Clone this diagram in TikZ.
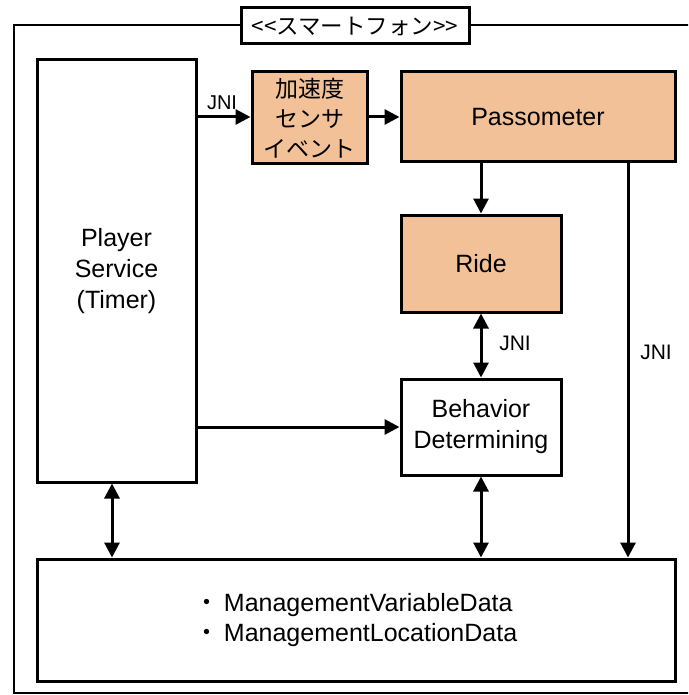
\documentclass[tikz,border=0pt]{standalone}
\usepackage{fontspec}
\setmainfont{Liberation Sans}
\newfontfamily\jp{Noto Sans CJK JP}
\usetikzlibrary{arrows.meta}
\definecolor{peach}{HTML}{F2C197}
\begin{document}
\begin{tikzpicture}[x=1pt,y=-1pt,
  box/.style={draw, line width=3pt, inner sep=0pt, align=center,
    font=\fontsize{25}{31}\selectfont},
  hot/.style={box, fill=peach},
  tip/.tip={Triangle[length=15pt,width=15pt]},
  conn/.style={line width=3pt, -tip},
  both/.style={line width=3pt, tip-tip},
  lbl/.style={inner sep=0pt, font=\fontsize{21}{24}\selectfont}]
  % canvas
  \useasboundingbox (0,0) rectangle (688,695);
  \clip (0,0) rectangle (688,695);
  \fill[white] (0,0) rectangle (688,695);

  % device frame and its title
  \draw[line width=2.7pt] (14,25) rectangle (705,693);
  \node[box, fill=white, minimum width=228pt, minimum height=36pt,
        font=\jp\fontsize{22.5}{26}\selectfont] (title) at (355,26) {<<スマートフォン>>};

  % components
  \node[box, minimum width=159pt, minimum height=422pt] (player) at (116.5,271)
    {Player\\Service\\(Timer)};
  \node[hot, minimum width=115pt, minimum height=92pt,
        font=\jp\fontsize{23}{30}\selectfont] (accel) at (309.5,118)
    {加速度\\センサ\\イベント};
  \node[hot, minimum width=274pt, minimum height=90pt] (pass) at (538,117) {Passometer};
  \node[hot, minimum width=160pt, minimum height=97pt] (ride) at (481,263.5) {Ride};
  \node[box, minimum width=160pt, minimum height=96pt] (behav) at (481,427)
    {Behavior\\Determining};
  \node[box, minimum width=638pt, minimum height=122pt, align=left,
        font=\fontsize{25}{30}\selectfont] (data) at (356,620)
    {{\jp ・}\,ManagementVariableData\\{\jp ・}\,ManagementLocationData};

  % connector columns
  \coordinate (px) at (112,0);
  \coordinate (jx) at (628,0);

  % connectors
  \draw[conn] (player.east |- pass.west) -- (accel.west |- pass.west);
  \draw[conn] (accel.east |- pass.west) -- (pass.west);
  \draw[conn] (ride.north |- pass.south) -- (ride.north);
  \draw[both] (ride.south) -- (behav.north);
  \draw[conn] (jx |- pass.south) -- (jx |- data.north);
  \draw[conn] (player.east |- behav.west) -- (behav.west);
  \draw[both] (px |- player.south) -- (px |- data.north);
  \draw[both] (behav.south) -- (behav.south |- data.north);

  % connector labels
  \node[lbl, font=\fontsize{20}{22}\selectfont] (l1) at (222,103) {JNI};
  \node[lbl] (l2) at (515,343) {JNI};
  \node[lbl] (l3) at (656,352) {JNI};
\end{tikzpicture}
\end{document}
